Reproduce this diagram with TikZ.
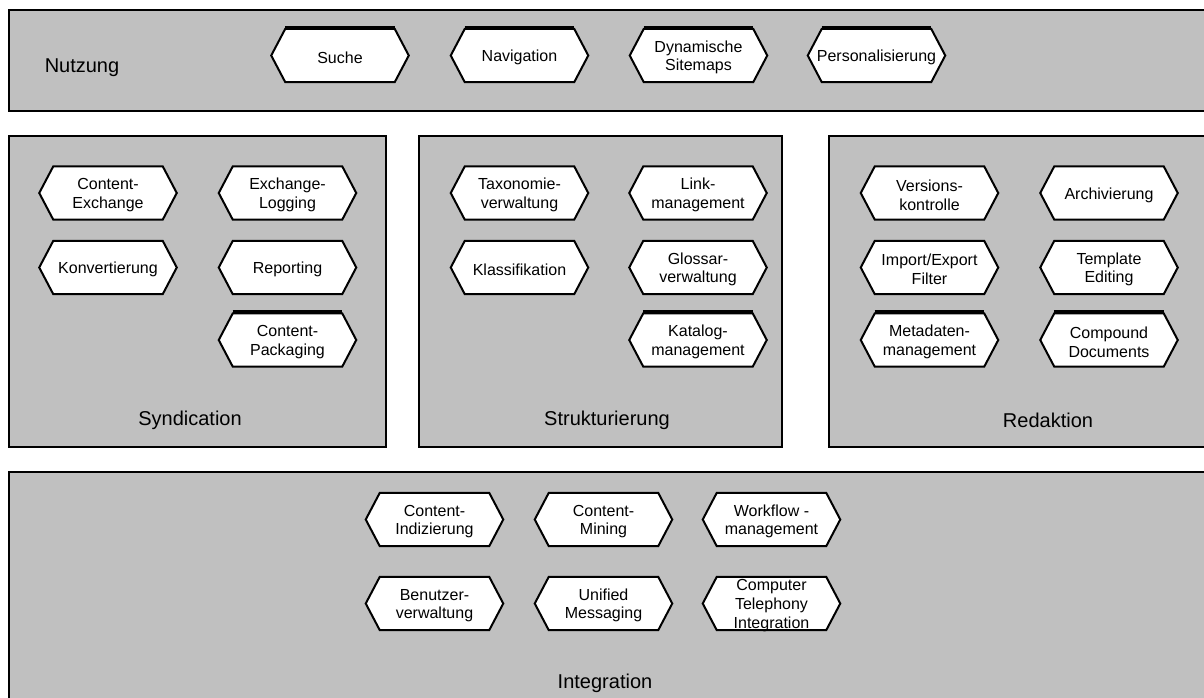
\documentclass[tikz,border=0pt]{standalone}
\usepackage{fontspec}
\setmainfont{Liberation Sans}
\definecolor{panelgray}{HTML}{C0C0C0}
\pgfdeclarelayer{bg}
\pgfdeclarelayer{hexl}
\pgfsetlayers{bg,hexl,main}
\tikzset{
  panel/.style={draw=black, line width=1.5pt, fill=panelgray},
  hexn/.style={minimum width=81.75pt, minimum height=39.5pt, inner sep=0pt},
  hextext/.style={align=center, inner sep=0pt, yshift=-1.5pt, font=\fontsize{12}{14}\selectfont},
  hexline/.style={draw=black, line width=1.5pt, fill=white, line join=miter},
  hextopline/.style={draw=black, line width=2.6pt},
  lbl/.style={font=\fontsize{15}{18}\selectfont, inner sep=0pt},
}
\newcommand\myhex[4]{%
  \node[hexn, label={[hextext]center:#4}] (#1) at (#2,#3) {};
  \begin{pgfonlayer}{hexl}
    \path[hexline] (#1.north west) -- (#1.north east) -- ([xshift=10.5pt]#1.east)
      -- (#1.south east) -- (#1.south west) -- ([xshift=-10.5pt]#1.west) -- cycle;
  \end{pgfonlayer}}
\newcommand\myhextop[1]{%
  \begin{pgfonlayer}{hexl}
    \path[hextopline] ([yshift=1pt]#1.north west) -- ([yshift=1pt]#1.north east);
  \end{pgfonlayer}}
\begin{document}
\begin{tikzpicture}[x=0.75pt, y=-0.75pt]
\useasboundingbox (0,0) rectangle (1204,697);
\begin{pgfonlayer}{bg}
  \clip (0,0) rectangle (1204,697);
  \fill[white] (0,0) rectangle (1204,697);
  \path[panel] (9,10) rectangle (1220,111);
  \path[panel] (9,136) rectangle (386,447);
  \path[panel] (419,136) rectangle (782,447);
  \path[panel] (829,136) rectangle (1220,447);
  \path[panel] (9,472) rectangle (1220,720);
\end{pgfonlayer}
% panel labels
\node[lbl] (lNutzung) at (82,68) {Nutzung};
\node[lbl] (lSynd) at (190,420) {Syndication};
\node[lbl] (lStruk) at (607,420) {Strukturierung};
\node[lbl] (lRed) at (1048,420) {Redaktion};
\node[lbl] (lInt) at (605,683) {Integration};
% Nutzung
\myhex{suche}{340}{55.5}{Suche}\myhextop{suche}
\myhex{navi}{519.5}{55.5}{Navigation}\myhextop{navi}
\myhex{dyn}{698.5}{55.5}{Dynamische\\Sitemaps}\myhextop{dyn}
\myhex{pers}{876.5}{55.5}{Personalisierung}\myhextop{pers}
% Syndication
\myhex{cex}{108}{193}{Content-\\Exchange}
\myhex{exl}{287.5}{193}{Exchange-\\Logging}
\myhex{konv}{108}{267.5}{Konvertierung}
\myhex{rep}{287.5}{267.5}{Reporting}
\myhex{cpack}{287.5}{340}{Content-\\Packaging}\myhextop{cpack}
% Strukturierung
\myhex{tax}{519.5}{193}{Taxonomie-\\verwaltung}
\myhex{link}{698}{193}{Link-\\management}
\myhex{klass}{519.5}{267.5}{Klassifikation}
\myhex{gloss}{698}{267.5}{Glossar-\\verwaltung}
\myhex{kat}{698}{340}{Katalog-\\management}\myhextop{kat}
% Redaktion
\myhex{vers}{929.5}{193}{Versions-\\kontrolle}
\myhex{arch}{1109}{193}{Archivierung}
\myhex{imp}{929.5}{267.5}{Import/Export\\Filter}
\myhex{templ}{1109}{267.5}{Template\\Editing}
\myhex{meta}{929.5}{340}{Metadaten-\\management}\myhextop{meta}
\myhex{comp}{1109}{340}{Compound\\Documents}\myhextop{comp}
% Integration
\myhex{cidx}{434.5}{519.5}{Content-\\Indizierung}
\myhex{cmin}{603.5}{519.5}{Content-\\Mining}
\myhex{wfm}{771.5}{519.5}{Workflow -\\management}
\myhex{benu}{434.5}{603.5}{Benutzer-\\verwaltung}
\myhex{umsg}{603.5}{603.5}{Unified\\Messaging}
\myhex{cti}{771.5}{603.5}{Computer\\Telephony\\Integration}
\end{tikzpicture}
\end{document}
